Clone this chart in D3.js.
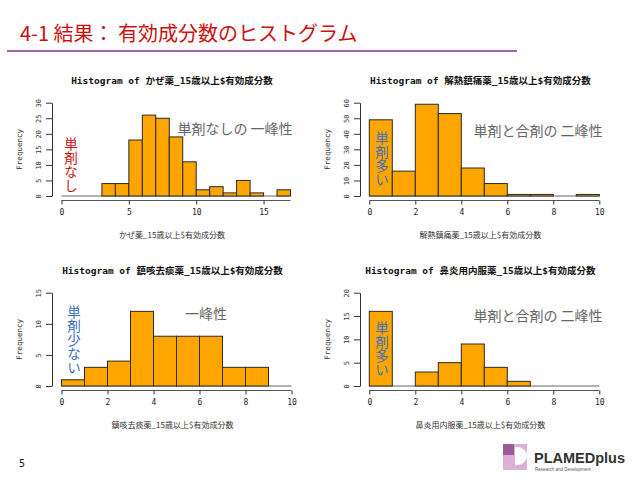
<!DOCTYPE html>
<html><head><meta charset="utf-8">
<script src="https://cdn.jsdelivr.net/npm/d3@7"></script>
<style>body{margin:0;background:#fff}svg{display:block}</style>
</head><body>
<svg id="c" width="640" height="480"></svg>
<script>
// ---- data ----
const slideTitle = "4-1 結果： 有効成分数のヒストグラム";
const panelTitles = [
  "Histogram of かぜ薬_15歳以上$有効成分数",
  "Histogram of 解熱鎮痛薬_15歳以上$有効成分数",
  "Histogram of 鎮咳去痰薬_15歳以上$有効成分数",
  "Histogram of 鼻炎用内服薬_15歳以上$有効成分数"
];
const xLabels = [
  "かぜ薬_15歳以上$有効成分数",
  "解熱鎮痛薬_15歳以上$有効成分数",
  "鎮咳去痰薬_15歳以上$有効成分数",
  "鼻炎用内服薬_15歳以上$有効成分数"
];
// counts per unit-width bin starting at 0
const kazeCounts    = [0,0,0,4,4,18,26,25,19,11,2,3,1,5,1,0,2];
const genetsuCounts = [49,16,59,53,18,8,1,1,0,1];
const chinkaiCounts = [1,3,4,12,8,8,8,3,3,0];
const bienCounts    = [16,0,3,5,9,4,1,0,0,0];
const xTicksA = [0,5,10,15];
const xTicksB = [0,2,4,6,8,10];
const yTicks1 = [0,5,10,15,20,25,30];
const yTicks2 = [0,10,20,30,40,50,60];
const yTicks3 = [0,5,10,15];
const yTicks4 = [0,5,10,15,20];
const notes = ["単剤なしの 一峰性","単剤と合剤の 二峰性","一峰性","単剤と合剤の 二峰性"];
const sideNotes = ["単剤なし","単剤多い","単剤少ない","単剤多い"];

const svg = d3.select("#c");
const jp = "'Noto Sans CJK JP','Noto Sans',sans-serif";
const mono = "'DejaVu Sans Mono','Noto Sans CJK JP',monospace";

// slide header
svg.append("text").attr("x",20).attr("y",41).attr("fill","#cc1010")
  .attr("font-family",jp).attr("font-size",20).text(slideTitle);
svg.append("line").attr("x1",7).attr("x2",517).attr("y1",51).attr("y2",51)
  .attr("stroke","#a065a8").attr("stroke-width",2);

const panels = [
  {counts:kazeCounts, xmax:17, ymax:30, xt:xTicksA, yt:yTicks1, oy:0,   xr:[61.5,290.5], yaxis:52,  note:{x:235,y:134}, side:{x:71,y:137,c:"#cc1010"}},
  {counts:genetsuCounts, xmax:10, ymax:60, xt:xTicksB, yt:yTicks2, oy:0, xr:[369.3,599.3], yaxis:360, note:{x:538,y:136}, side:{x:382,y:131,c:"#3a6fc0"}},
  {counts:chinkaiCounts, xmax:10, ymax:15, xt:xTicksB, yt:yTicks3, oy:190, xr:[61.5,291.5], yaxis:52, note:{x:206,y:319}, side:{x:74,y:305,c:"#3a6fc0"}},
  {counts:bienCounts, xmax:10, ymax:20, xt:xTicksB, yt:yTicks4, oy:190, xr:[369.3,599.3], yaxis:360, note:{x:538,y:321}, side:{x:382,y:321,c:"#3a6fc0"}}
];

panels.forEach((p,i)=>{
  const base = 196 + p.oy;
  const top = 102.7 + p.oy;
  const x = d3.scaleLinear().domain([0,p.xmax]).range(p.xr);
  const y = d3.scaleLinear().domain([0,p.ymax]).range([base,top]);
  const g = svg.append("g");
  // title
  g.append("text").attr("x",(p.xr[0]+p.xr[1])/2 - 4).attr("y",84+p.oy)
    .attr("text-anchor","middle").attr("font-family",mono).attr("font-weight","bold")
    .attr("font-size",9.5).attr("fill","#111").text(panelTitles[i]);
  // baseline
  g.append("line").attr("x1",x(0)).attr("x2",x(p.xmax)).attr("y1",base).attr("y2",base)
    .attr("stroke","#666").attr("stroke-width",1);
  // bars
  const bins = p.counts.map((c,k)=>({x0:k,x1:k+1,c}));
  g.selectAll("rect").data(bins.filter(d=>d.c>0)).join("rect")
    .attr("x",d=>x(d.x0)).attr("width",d=>x(d.x1)-x(d.x0))
    .attr("y",d=>y(d.c)).attr("height",d=>base-y(d.c))
    .attr("fill","#ffa500").attr("stroke","#2a2a2a").attr("stroke-width",1);
  // x axis
  const xa = g.append("g").attr("transform",`translate(0,${base+4.5})`)
    .call(d3.axisBottom(x).tickValues(p.xt).tickSize(4).tickSizeOuter(0).tickPadding(5));
  xa.select(".domain").attr("stroke","#555").attr("d",`M${x(0)},0H${x(p.xmax)}`);
  xa.selectAll("line").attr("stroke","#333");
  xa.selectAll("text").attr("font-family",mono).attr("font-size",8).attr("fill","#222");
  // y axis
  const ya = g.append("g").attr("transform",`translate(${p.yaxis},0)`)
    .call(d3.axisLeft(y).tickValues(p.yt).tickSize(6).tickSizeOuter(0));
  ya.select(".domain").attr("stroke","#333");
  ya.selectAll("line").attr("stroke","#333");
  ya.selectAll("text").attr("font-family",mono).attr("font-size",7).attr("fill","#333")
    .attr("text-anchor","middle").attr("x",0).attr("dy",0)
    .attr("transform","translate(-11,0) rotate(-90)");
  // y label
  g.append("text").attr("transform",`translate(${p.yaxis-30},${(base+top)/2}) rotate(-90)`)
    .attr("text-anchor","middle").attr("font-family",mono).attr("font-size",7.5)
    .attr("fill","#333").text("Frequency");
  // x label
  g.append("text").attr("x",(p.xr[0]+p.xr[1])/2 - 4).attr("y",238+p.oy).attr("text-anchor","middle")
    .attr("font-family",jp).attr("font-size",8).attr("fill","#333").text(xLabels[i]);
  // annotation
  g.append("text").attr("x",p.note.x).attr("y",p.note.y).attr("text-anchor","middle")
    .attr("font-family",jp).attr("font-size",14).attr("fill","#666").text(notes[i]);
  // vertical side note (single vertical text)
  g.append("text").attr("x",p.side.x).attr("y",p.side.y)
    .style("writing-mode","vertical-rl").style("glyph-orientation-vertical","0")
    .attr("font-family",jp).attr("font-size",13.5).attr("letter-spacing",0.5)
    .attr("fill",p.side.c).text(sideNotes[i]);
});

// page number
svg.append("text").attr("x",19).attr("y",467).attr("font-family",mono).attr("font-size",10)
  .attr("fill","#111").text("5");
// logo
const lg = svg.append("g");
lg.append("rect").attr("x",503).attr("y",444).attr("width",24).attr("height",26).attr("fill","#dcb0d6");
lg.append("path").attr("d","M515,447 h3 a9,9 0 0 1 0,18 h-3 z").attr("fill","#fff");
lg.append("rect").attr("x",503).attr("y",444).attr("width",11).attr("height",11).attr("fill","#9b5a98");
lg.append("text").attr("x",534).attr("y",463).attr("font-family","'Liberation Sans',Arial,sans-serif")
  .attr("font-weight","bold").attr("font-size",14.5).attr("fill","#333").text("PLAMEDplus");
lg.append("text").attr("x",535).attr("y",471).attr("font-family","'Liberation Sans',Arial,sans-serif")
  .attr("font-size",4.5).attr("fill","#555").text("Research and Development");
</script>
</body></html>
